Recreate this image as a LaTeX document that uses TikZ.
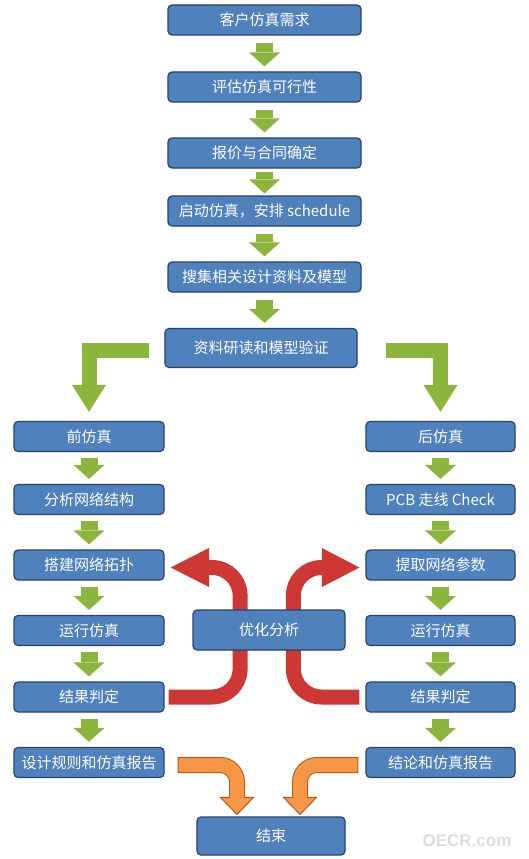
\documentclass[tikz,border=0pt]{standalone}
\usepackage{fontspec}
\setmainfont{Noto Sans CJK SC}
\newfontfamily\wmfont{Liberation Sans}
\usetikzlibrary{arrows.meta,backgrounds,calc}
\pgfdeclarelayer{paper}
\pgfdeclarelayer{behind}
\pgfsetlayers{paper,behind,main}
\definecolor{boxfill}{RGB}{79,129,189}
\definecolor{boxdraw}{RGB}{40,65,110}
\definecolor{agreen}{RGB}{140,181,60}
\definecolor{ared}{RGB}{205,55,52}
\definecolor{aorange}{RGB}{247,150,70}
\definecolor{aorangedk}{RGB}{175,90,25}
\begin{document}
\begin{tikzpicture}[x=1pt,y=-1pt,
  box/.style={draw=boxdraw, fill=boxfill, line width=1.2pt, rounded corners=4pt,
    text=white, font=\fontsize{15}{16}\selectfont, inner sep=0pt, minimum height=30pt},
  midbox/.style={box, minimum width=193pt},
  leftbox/.style={box, minimum width=150pt},
  rightbox/.style={box, minimum width=149pt},
  gar/.style={draw=agreen, line width=17pt,
    -{Triangle[length=14pt,width=31pt,line width=0pt]}},
  garL/.style={draw=agreen, line width=15pt, line join=miter,
    -{Triangle[length=27pt,width=34pt,line width=0pt]}},
  redshaft/.style={draw=ared, line width=15pt, rounded corners=28pt},
  redhead/.style={fill=ared},
  oshaftdk/.style={draw=aorangedk, line width=16pt, rounded corners=17pt},
  oshaft/.style={draw=aorange, line width=14pt, rounded corners=17pt},
  ohead/.style={fill=aorange},
  oline/.style={draw=aorangedk, line width=1pt, line join=miter},
]
\useasboundingbox (0,0) rectangle (529,859);
\begin{pgfonlayer}{paper}
\fill[white] (0,0) rectangle (529,859);
\end{pgfonlayer}

% central column
\node[midbox] (c1) at (264.5,20) {客户仿真需求};
\node[midbox] (c2) at (264.5,87) {评估仿真可行性};
\node[midbox] (c3) at (264.5,153) {报价与合同确定};
\node[midbox] (c4) at (264.5,211) {启动仿真，安排 schedule};
\node[midbox] (c5) at (264.5,277) {搜集相关设计资料及模型};
\node[box, minimum width=192pt, minimum height=39pt] (c6) at (261,348) {资料研读和模型验证};

% left column
\node[leftbox] (L1) at (89,436.5) {前仿真};
\node[leftbox] (L2) at (89,499.5) {分析网络结构};
\node[leftbox] (L3) at (89,565) {搭建网络拓扑};
\node[leftbox] (L4) at (89,630.5) {运行仿真};
\node[leftbox] (L5) at (89,697) {结果判定};
\node[leftbox] (L6) at (89,762.5) {设计规则和仿真报告};

% right column
\node[rightbox] (R1) at (440.5,436.5) {后仿真};
\node[rightbox] (R2) at (440.5,499.5) {PCB 走线 Check};
\node[rightbox] (R3) at (440.5,565) {提取网络参数};
\node[rightbox] (R4) at (440.5,630.5) {运行仿真};
\node[rightbox] (R5) at (440.5,697) {结果判定};
\node[rightbox] (R6) at (440.5,762.5) {结论和仿真报告};

\node[box, minimum width=152pt, minimum height=40pt] (opt) at (269,630) {优化分析};
\node[box, minimum width=148pt, minimum height=38pt] (end) at (271,836) {结束};

% green arrows, central
\draw[gar] ([yshift=-7pt]c1.south) -- ([yshift=5pt]c2.north);
\draw[gar] ([yshift=-7pt]c2.south) -- ([yshift=5pt]c3.north);
\draw[gar] ([yshift=-3pt]c3.south) -- ([yshift=2pt]c4.north);
\draw[gar] ([yshift=-7pt]c4.south) -- ([yshift=5pt]c5.north);
\draw[gar] ([yshift=-7pt]c5.south) -- ([yshift=5pt]c5.south |- c6.north);

% green L arrows
\draw[garL] ([xshift=-15pt,yshift=-2.5pt]c6.west) -| ([yshift=9pt]L1.north);
\draw[garL] ([xshift=28pt,yshift=-2.5pt]c6.east) -| ([yshift=9pt]R1.north);

% green arrows, columns
\foreach \a/\b in {L1/L2,L2/L3,L3/L4,L4/L5,L5/L6,R1/R2,R2/R3,R3/R4,R4/R5,R5/R6}
  \draw[gar] ([yshift=-6pt]\a.south) -- ([yshift=5pt]\b.north);

% red arrows (behind the optimisation box)
\begin{pgfonlayer}{behind}
\draw[redshaft] ([xshift=4pt]L5.east) -- ([xshift=75.5pt]L5.east)
  -- ([xshift=75.5pt,yshift=-2.5pt]L3.east) -- ([xshift=44pt,yshift=-2.5pt]L3.east);
\fill[redhead] ([xshift=6pt,yshift=-2.5pt]L3.east) -- ([xshift=44.5pt,yshift=-22pt]L3.east)
  -- ([xshift=44.5pt,yshift=17pt]L3.east) -- cycle;
\draw[redshaft] ([xshift=-6pt]R5.west) -- ([xshift=-72pt]R5.west)
  -- ([xshift=-72pt,yshift=-2.5pt]R3.west) -- ([xshift=-43pt,yshift=-2.5pt]R3.west);
\fill[redhead] ([xshift=-6pt,yshift=-2.5pt]R3.west) -- ([xshift=-43.5pt,yshift=-22pt]R3.west)
  -- ([xshift=-43.5pt,yshift=17pt]R3.west) -- cycle;
\end{pgfonlayer}

% orange arrows
\draw[oshaftdk] ([xshift=13pt,yshift=-2.5pt]L6.east) -| ([xshift=-34pt,yshift=18pt]end.north);
\draw[oshaft] ([xshift=14pt,yshift=-2.5pt]L6.east) -| ([xshift=-34pt,yshift=18.5pt]end.north);
\fill[ohead] ([xshift=-34pt,yshift=2pt]end.north) -- ([xshift=-50.5pt,yshift=19pt]end.north)
  -- ([xshift=-17.5pt,yshift=19pt]end.north) -- cycle;
\draw[oline] ([xshift=-41pt,yshift=19pt]end.north) -- ([xshift=-50.5pt,yshift=19pt]end.north)
  -- ([xshift=-34pt,yshift=2pt]end.north) -- ([xshift=-17.5pt,yshift=19pt]end.north)
  -- ([xshift=-27pt,yshift=19pt]end.north);

\draw[oshaftdk] ([xshift=-7pt,yshift=-2.5pt]R6.west) -| ([xshift=29pt,yshift=18pt]end.north);
\draw[oshaft] ([xshift=-8pt,yshift=-2.5pt]R6.west) -| ([xshift=29pt,yshift=18.5pt]end.north);
\fill[ohead] ([xshift=29pt,yshift=2pt]end.north) -- ([xshift=12.5pt,yshift=19pt]end.north)
  -- ([xshift=45.5pt,yshift=19pt]end.north) -- cycle;
\draw[oline] ([xshift=22pt,yshift=19pt]end.north) -- ([xshift=12.5pt,yshift=19pt]end.north)
  -- ([xshift=29pt,yshift=2pt]end.north) -- ([xshift=45.5pt,yshift=19pt]end.north)
  -- ([xshift=36pt,yshift=19pt]end.north);

% watermark
\node[font=\wmfont\bfseries\fontsize{17}{17}\selectfont, text=black!13] (wm) at (467,841) {OECR.com};
\end{tikzpicture}
\end{document}
